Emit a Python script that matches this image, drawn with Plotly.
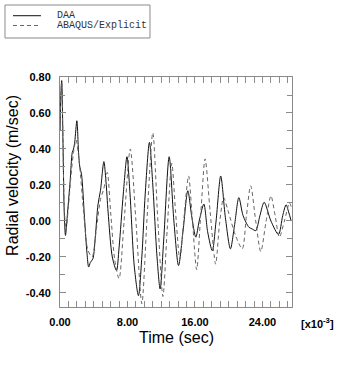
import plotly.graph_objects as go

# Time in units of 1e-3 sec
t_daa = [0, 0.1, 0.2, 0.35, 0.5, 0.65, 0.9, 1.2, 1.45, 1.6, 1.75, 2.0, 2.2, 2.35, 2.55, 2.9,
         3.2, 3.4, 3.6, 3.9, 4.2, 4.5, 4.8, 5.2, 5.45, 5.7, 6.2, 6.7, 7.0, 7.5, 7.94, 8.3,
         8.8, 9.3, 9.7, 10.1, 10.6, 11.0, 11.5, 11.87, 12.3, 12.94, 13.5, 14.05, 14.6, 15.15,
         15.6, 16.1, 16.5, 17.05, 17.5, 18.05, 18.5, 19.05, 19.6, 20.2, 20.7, 21.2, 21.7,
         22.4, 22.8, 23.2, 23.7, 24.2, 25.0, 25.9, 26.4, 26.8, 27.1, 27.4]
v_daa = [0.50, 0.70, 0.78, 0.45, 0.05, -0.08, 0.05, 0.22, 0.38, 0.40, 0.44, 0.557, 0.38, 0.30, 0.26, 0.02,
         -0.18, -0.256, -0.23, -0.21, -0.08, 0.09, 0.17, 0.33, 0.22, 0.05, -0.20, -0.276, -0.15, 0.15, 0.357, 0.15,
         -0.25, -0.415, -0.20, 0.15, 0.437, 0.20, -0.20, -0.378, -0.10, 0.357, 0.0, -0.248, -0.05, 0.168,
         0.03, -0.09, 0.0, 0.094, -0.06, -0.165, 0.0, 0.25, 0.02, -0.155, -0.02, 0.13, 0.03,
         -0.035, -0.045, -0.054, 0.03, 0.104, 0.0, -0.075, 0.03, 0.09, 0.05, 0.0]

t_abq = [0, 0.1, 0.2, 0.35, 0.5, 0.7, 1.0, 1.3, 1.6, 1.9, 2.3, 2.8, 3.3, 3.8, 4.3, 4.8, 5.2, 5.6,
         6.0, 6.5, 7.0, 7.6, 8.33, 9.0, 9.7, 10.3, 11.0, 11.6, 12.2, 12.7, 13.25, 13.7, 14.2,
         14.7, 15.24, 15.7, 16.2, 16.7, 17.2, 17.8, 18.45, 18.9, 19.4, 19.9, 20.8, 21.6, 22.1,
         22.6, 23.2, 23.8, 24.4, 25.0, 25.5, 26.0, 26.6, 27.2, 27.4]
v_abq = [0.50, 0.70, 0.77, 0.45, 0.08, -0.05, 0.08, 0.25, 0.38, 0.45, 0.32, 0.05, -0.16, -0.20, -0.05, 0.12, 0.18, 0.27,
         0.05, -0.22, -0.32, 0.0, 0.40, 0.0, -0.46, 0.0, 0.49, 0.0, -0.42, -0.05, 0.32, 0.05, -0.21,
         0.02, 0.25, 0.0, -0.27, 0.05, 0.345, 0.05, -0.24, -0.02, 0.13, 0.06, -0.08, -0.155, 0.03,
         0.196, 0.0, -0.17, -0.01, 0.14, 0.03, -0.09, 0.0, 0.10, 0.08]

x_tickvals = [0, 8, 16, 24]
x_ticktext = ["0.00", "8.00", "16.00", "24.00"]
y_tickvals = [-0.4, -0.2, 0.0, 0.2, 0.4, 0.6, 0.8]
y_ticktext = ["-0.40", "-0.20", "0.00", "0.20", "0.40", "0.60", "0.80"]

series_names = ["DAA", "ABAQUS/Explicit"]
series_colors = ["#111111", "#666666"]
series_dash = ["solid", "4px,3px"]

fig = go.Figure()
fig.add_trace(go.Scatter(x=t_daa, y=v_daa, mode="lines", name=series_names[0], showlegend=False,
                         line=dict(color=series_colors[0], width=1, dash=series_dash[0],
                                   shape="spline", smoothing=0.8)))
fig.add_trace(go.Scatter(x=t_abq, y=v_abq, mode="lines", name=series_names[1], showlegend=False,
                         line=dict(color=series_colors[1], width=1, dash=series_dash[1],
                                   shape="spline", smoothing=0.8)))

axis_common = dict(showline=True, linecolor="#8a8a8a", linewidth=1, mirror="allticks",
                   ticks="inside", tickcolor="#8a8a8a", showgrid=False, zeroline=False,
                   tickfont=dict(family="Liberation Sans, Arial", size=11, color="#000000", weight="bold"))

fig.update_xaxes(range=[0, 27.5], tickmode="array", tickvals=x_tickvals, ticktext=x_ticktext,
                 ticklen=6, ticklabelstandoff=5,
                 minor=dict(dtick=1, ticks="inside", ticklen=6, tickcolor="#8a8a8a"),
                 **axis_common)
fig.update_yaxes(range=[-0.478, 0.80], tickmode="array", tickvals=y_tickvals, ticktext=y_ticktext,
                 ticklen=6, ticklabelstandoff=6,
                 minor=dict(dtick=0.1, ticks="inside", ticklen=5, tickcolor="#8a8a8a"),
                 **axis_common)

# Legend box drawn in paper coordinates (top-left, outside the plot area)
shapes = [dict(type="rect", xref="paper", yref="paper", x0=-0.2371, x1=0.3879, y0=1.1696, y1=1.313,
               line=dict(color="#8a8a8a", width=1), fillcolor="white", layer="above")]
legend_rows_y = [1.2665, 1.2239]
annotations = []
for name, color, dash, ly in zip(series_names, series_colors, series_dash, legend_rows_y):
    shapes.append(dict(type="line", xref="paper", yref="paper", x0=-0.2026, x1=-0.0819, y0=ly, y1=ly,
                       line=dict(color=color, width=1, dash=dash), layer="above"))
    annotations.append(dict(text=name, xref="paper", yref="paper", x=-0.0216, y=ly,
                            xanchor="left", yanchor="middle", showarrow=False,
                            font=dict(family="Liberation Mono, Courier New", size=10, color="#333333")))

annotations += [
    dict(text="Time (sec)", xref="paper", yref="paper", x=0.5, y=-0.133,
         showarrow=False, font=dict(family="Liberation Sans, Arial", size=16, color="#000"),
         xanchor="center", yanchor="middle"),
    dict(text="Radial velocity (m/sec)", xref="paper", yref="paper", x=-0.203, y=0.574,
         showarrow=False, textangle=-90,
         font=dict(family="Liberation Sans, Arial", size=16, color="#000"),
         xanchor="center", yanchor="middle"),
    dict(text="[x10<sup>-3</sup>]", xref="paper", yref="paper", x=1.108, y=-0.07,
         showarrow=False, font=dict(family="Liberation Sans, Arial", size=11, color="#000", weight="bold"),
         xanchor="center", yanchor="middle"),
]

fig.update_layout(
    width=349, height=383,
    margin=dict(l=60, r=57, t=77, b=76, autoexpand=False),
    paper_bgcolor="white", plot_bgcolor="white",
    showlegend=False,
    shapes=shapes,
    annotations=annotations,
)

fig.write_html("out.html", config={"displayModeBar": False},
               post_script="document.body.style.margin='0';document.body.style.padding='0';")
